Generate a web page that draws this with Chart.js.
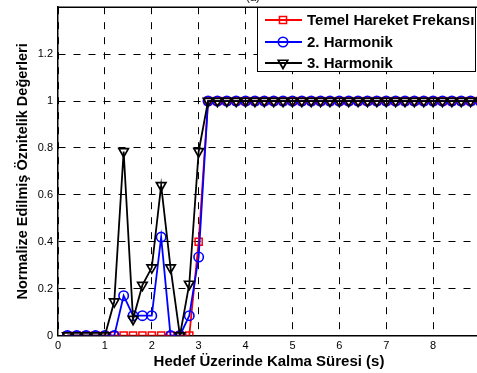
<!DOCTYPE html>
<html><head><meta charset="utf-8">
<script src="https://cdn.jsdelivr.net/npm/chart.js@4/dist/chart.umd.min.js"></script>
<style>
html,body{margin:0;padding:0;background:#fff;overflow:hidden;}
#wrap{width:477px;height:373px;overflow:hidden;position:relative;}
#box{width:490px;height:373px;}
</style></head>
<body><div id="wrap"><div id="box"><canvas id="c"></canvas></div></div>
<script>
const timeS = [0.2,0.4,0.6,0.8,1.0,1.2,1.4,1.6,1.8,2.0,2.2,2.4,2.6,2.8,3.0,3.2,3.4,3.6,3.8,4.0,4.2,4.4,4.6,4.8,5.0,5.2,5.4,5.6,5.8,6.0,6.2,6.4,6.6,6.8,7.0,7.2,7.4,7.6,7.8,8.0,8.2,8.4,8.6,8.8,9.0];
const temel = [0,0,0,0,0,0,0,0,0,0,0,0,0,0,0.40,1,1,1,1,1,1,1,1,1,1,1,1,1,1,1,1,1,1,1,1,1,1,1,1,1,1,1,1,1,1];
const harm2 = [0,0,0,0,0,0,0.17,0.085,0.085,0.085,0.42,0,0,0.085,0.335,1,1,1,1,1,1,1,1,1,1,1,1,1,1,1,1,1,1,1,1,1,1,1,1,1,1,1,1,1,1];
const harm3 = [0,0,0,0,0,0.145,0.785,0.07,0.215,0.29,0.64,0.29,0,0.22,0.785,1,1,1,1,1,1,1,1,1,1,1,1,1,1,1,1,1,1,1,1,1,1,1,1,1,1,1,1,1,1];
const seriesNames = ['Temel Hareket Frekansı','2. Harmonik','3. Harmonik'];
const yTicks = [0,0.2,0.4,0.6,0.8,1,1.2];
const xTicks = [0,1,2,3,4,5,6,7,8];

const pts = a => a.map((v,i)=>({x:timeS[i],y:v}));
const FONT = '"Liberation Sans", Arial, sans-serif';

const legendPlugin = {
  id:'matLegend',
  afterDraw(chart){
    const ctx = chart.ctx;
    const a = chart.chartArea;
    ctx.save();
    ctx.strokeStyle='#000'; ctx.lineWidth=1.5;
    ctx.beginPath(); ctx.moveTo(a.left,a.top); ctx.lineTo(a.right,a.top); ctx.lineTo(a.right,a.bottom); ctx.stroke();
    ctx.fillStyle='#000'; ctx.font='11px '+FONT; ctx.textAlign='center'; ctx.textBaseline='bottom';
    ctx.fillText('(a)',253,3);
    const x0=257, y0=7, x1=476, y1=72;
    ctx.fillStyle='#fff'; ctx.fillRect(x0,y0,x1-x0,y1-y0);
    ctx.lineWidth=1; ctx.strokeStyle='#000'; ctx.strokeRect(x0+0.5,y0+0.5,x1-x0-1,y1-y0-1);
    const rows=[20,42,63];
    chart.data.datasets.forEach((ds,i)=>{
      const y=rows[i];
      ctx.strokeStyle=ds.borderColor; ctx.lineWidth=ds.borderWidth; ctx.setLineDash([]);
      ctx.beginPath(); ctx.moveTo(265,y); ctx.lineTo(302,y); ctx.stroke();
      ctx.fillStyle='rgba(255,255,255,0)'; ctx.strokeStyle=ds.pointBorderColor; ctx.lineWidth=ds.pointBorderWidth;
      Chart.helpers.drawPoint(ctx,{pointStyle:ds.pointStyle,radius:ds.pointRadius,rotation:ds.pointRotation||0,borderWidth:ds.pointBorderWidth},283,y);
      ctx.fillStyle='#000'; ctx.font='bold 15px '+FONT; ctx.textAlign='left'; ctx.textBaseline='middle';
      ctx.fillText(ds.label,307,y+1);
    });
    ctx.restore();
  }
};

new Chart(document.getElementById('c'),{
  type:'line',
  data:{datasets:[
    {label:seriesNames[0],data:pts(temel),borderColor:'#ff0000',backgroundColor:'#ffffff',borderWidth:1.8,pointStyle:'rect',pointRadius:5,pointBorderWidth:1.5,pointBorderColor:'#ff0000',pointBackgroundColor:'rgba(255,255,255,0)',order:3},
    {label:seriesNames[1],data:pts(harm2),borderColor:'#0000ff',backgroundColor:'#ffffff',borderWidth:1.8,pointStyle:'circle',pointRadius:4.7,pointBorderWidth:1.6,pointBorderColor:'#0000ff',pointBackgroundColor:'rgba(255,255,255,0)',order:2},
    {label:seriesNames[2],data:pts(harm3),borderColor:'#000000',backgroundColor:'#ffffff',borderWidth:1.8,pointStyle:'triangle',pointRadius:5.5,pointRotation:180,pointBorderWidth:1.7,pointBorderColor:'#000000',pointBackgroundColor:'rgba(255,255,255,0)',order:1}
  ]},
  options:{
    responsive:true, maintainAspectRatio:false, animation:false,
    layout:{padding:{top:6,right:10,left:0,bottom:0}},
    plugins:{legend:{display:false},tooltip:{enabled:false}},
    elements:{line:{tension:0}},
    scales:{
      x:{type:'linear',min:0,max:9,
        afterBuildTicks:s=>{s.ticks=xTicks.map(v=>({value:v}));},
        ticks:{color:'#000',font:{family:FONT,size:11},padding:4,maxRotation:0},
        grid:{color:'#000',lineWidth:1,drawTicks:false},
        border:{display:true,color:'#000',width:1.5,dash:[7,8]},
        title:{display:true,text:'Hedef Üzerinde Kalma Süresi (s)',color:'#000',font:{family:FONT,size:15,weight:'bold'},padding:{top:2,bottom:2}},
        afterFit:s=>{s.height=37.4; s.paddingLeft=0; s.paddingRight=0;}
      },
      y:{type:'linear',min:0,max:1.4,
        afterBuildTicks:s=>{s.ticks=yTicks.map(v=>({value:v}));},
        ticks:{color:'#000',font:{family:FONT,size:11},padding:5,callback:v=>String(v)},
        grid:{color:'#000',lineWidth:1,drawTicks:false},
        border:{display:true,color:'#000',width:1.5,dash:[7,8]},
        title:{display:true,text:'Normalize Edilmiş Öznitelik Değerleri',color:'#000',font:{family:FONT,size:14.5,weight:'bold'},padding:{top:14,bottom:4}},
        afterFit:s=>{s.width=58; s.paddingTop=0; s.paddingBottom=0;}
      }
    }
  },
  plugins:[legendPlugin]
});
</script></body></html>
